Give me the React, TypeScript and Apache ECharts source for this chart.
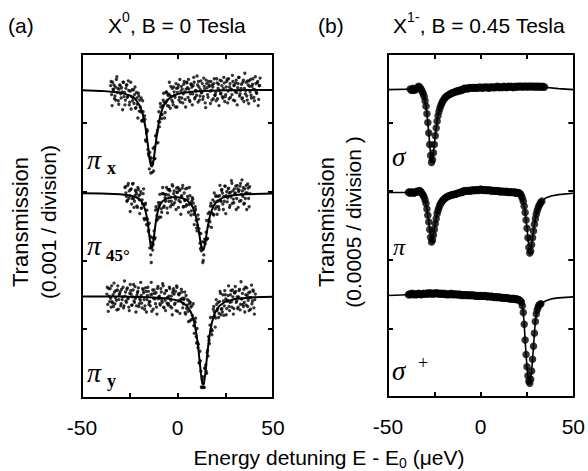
import React, { useEffect, useRef } from 'react';
import * as echarts from 'echarts';

// ---------- axes ----------
const X_MIN = -50;
const X_MAX = 50;
const X_TICK = 25;
const Y_MIN = 0;
const Y_MAX = 5;
const Y_TICK = 1;
// vertical offsets (in divisions) of the three stacked traces
const OFFSETS = [4.48, 2.98, 1.48];
const STEP = 0.5; // energy step of the measured points (ueV)

// ---------- panel (a): X0, B = 0 T  (transmission change, divisions); two interleaved scans ----------
const PIX_START = -35;
const PIX_Y = [
  0.06, -0.07, 0.11, 0.00, -0.13, 0.04, 0.15, -0.04, -0.16, 0.01, 0.06, -0.12, -0.03, 0.11, -0.10, -0.22, 0.02, 0.07, -0.09, -0.01, -0.18, 0.11, -0.10, -0.16, 0.00, -0.07,
  -0.27, -0.04, -0.21, -0.05, -0.31, -0.25, -0.12, -0.45, -0.32, -0.46, -0.43, -0.75, -0.58, -0.87, -0.96, -0.91, -1.21, -1.05, -1.07, -1.18, -0.83, -0.67, -0.77, -0.59, -0.46, -0.54, -0.20, -0.36, -0.36, -0.15, -0.18, -0.33, -0.04, -0.16, -0.08,
  -0.24, -0.08, 0.05, -0.15, -0.18, 0.04, -0.08, -0.25, 0.02, -0.04, 0.07, -0.11, -0.18, 0.05, 0.01, -0.06, 0.12, -0.14, 0.01,
  0.10, -0.11, 0.01, -0.17, 0.08, 0.04, -0.06, 0.18, -0.13, -0.01, -0.08, 0.07, 0.12, -0.15, 0.00, -0.04, 0.09, -0.10, 0.05, -0.19, 0.14, 0.03, -0.11, 0.07, -0.02, 0.12, -0.15, 0.04, 0.09, -0.08, -0.04, 0.16, -0.13, 0.08, -0.01, -0.06, 0.13, -0.10, 0.02, 0.10,
  -0.10, 0.04, 0.15, -0.02, -0.13, 0.09, 0.01, -0.07, 0.12, 0.06, -0.16, 0.10, -0.04, 0.03, 0.18, -0.09, -0.01, 0.08, -0.12, 0.14, 0.02, -0.06, 0.11, -0.15, 0.07, 0.13, -0.03, -0.08, 0.05, 0.16, -0.11, 0.00, 0.09, -0.05, 0.12, -0.14, 0.06,
];
const PIX2_START = -34.75;
const PIX2_Y = [
  0.12, -0.23, 0.01, 0.07, -0.09, -0.15, 0.19, 0.02, -0.21, 0.07, -0.06, 0.03, -0.29, 0.11, -0.04, -0.15, 0.07, -0.11, 0.13, -0.22, -0.02, -0.28, 0.00, -0.11, -0.20, 0.04,
  -0.26, -0.12, -0.41, -0.09, -0.15, -0.32, -0.45, -0.16, -0.42, -0.38, -0.73, -0.63, -0.60, -0.93, -1.15, -1.00, -0.99, -1.20, -0.85, -1.00, -1.00, -0.67, -0.63, -0.77, -0.32, -0.47, -0.25, -0.42, -0.23, -0.05, -0.41, -0.19, -0.03, -0.23, -0.06,
  0.11, -0.27, -0.10, 0.02, -0.22, -0.03, -0.11, 0.09, -0.25, 0.03, -0.15, 0.15, -0.02, -0.12, -0.19, 0.08, -0.03, -0.25, 0.11,
  0.03, 0.15, -0.15, -0.06, 0.08, -0.22, 0.06, 0.11, -0.11, -0.02, 0.20, -0.18, 0.04, -0.09, 0.13, -0.04, -0.14, 0.17, 0.01, -0.26, 0.09, -0.07, 0.12, 0.05, -0.20, -0.01, 0.07, -0.13, 0.16, -0.08, -0.16, 0.10, 0.02, -0.23, 0.14, -0.05, 0.06, -0.12, 0.18, -0.17,
  -0.07, 0.12, -0.19, 0.16, 0.04, -0.11, 0.00, 0.21, -0.15, 0.07, -0.03, 0.14, -0.22, 0.09, 0.18, -0.06, 0.02, -0.13, 0.11, -0.17, 0.24, -0.01, -0.09, 0.13, -0.20, 0.05, 0.15, -0.12, 0.08, 0.01, -0.16, 0.19, -0.04, 0.10, -0.23, 0.06, 0.17,
];
const P45_START = -27.5;
const P45_Y = [
  0.08, 0.00, -0.12, 0.11, -0.08, -0.04, 0.05, -0.16, 0.13, -0.08, -0.12, 0.04, -0.01, -0.21, 0.05, -0.10, -0.02, -0.22,
  -0.10, -0.01, -0.37, -0.17, -0.37, -0.25, -0.47, -0.54, -0.80, -0.90, -0.72, -0.83, -0.66, -0.67, -0.25, -0.40, -0.23, -0.14, -0.35, -0.14, -0.23,
  -0.01, -0.01, -0.19, -0.07, -0.02, -0.22, 0.05, -0.12, 0.03, -0.06, -0.17, 0.10, -0.01, -0.14, -0.09, 0.07, 0.01, -0.21, 0.05, -0.13, -0.05, 0.07, -0.20, 0.00, -0.10, -0.19, 0.07,
  -0.09, -0.17, -0.04, -0.32, -0.12, -0.09, -0.31, -0.27, -0.24, -0.51, -0.47, -0.38, -0.58, -0.81, -0.84, -0.71, -0.98, -0.71, -0.74, -0.57, -0.67, -0.30, -0.39, -0.42, -0.15, -0.29, -0.10, -0.32, -0.13, -0.05, -0.20, -0.12,
  -0.20, -0.04, -0.11, 0.04, 0.00, -0.24, -0.12, 0.10, -0.04, -0.13, 0.06, 0.00, -0.18, -0.06, 0.14, 0.03, -0.14, -0.01, 0.10, -0.08, 0.06, 0.02, -0.12, 0.14, -0.02, 0.03, 0.08, -0.15, -0.08, 0.11, 0.00, 0.07, -0.20, -0.01,
];
const P452_START = -27.25;
const P452_Y = [
  0.09, -0.05, -0.11, 0.14, 0.03, -0.27, 0.06, -0.08, 0.14, -0.21, -0.04, 0.02, -0.19, 0.08, -0.04, -0.30, 0.02,
  -0.22, -0.16, 0.06, -0.39, -0.15, -0.46, -0.38, -0.56, -0.44, -0.63, -1.01, -0.65, -0.75, -0.55, -0.65, -0.20, -0.33, -0.38, -0.18, -0.02, -0.35,
  -0.28, 0.08, -0.21, -0.02, -0.12, 0.08, -0.29, -0.03, 0.05, -0.20, -0.12, 0.12, -0.17, 0.03, -0.05, -0.24, 0.01, 0.08, -0.11, 0.04, -0.31, -0.04, 0.11, -0.20, -0.11, 0.06, -0.17,
  -0.05, -0.28, 0.08, -0.15, -0.26, -0.07, -0.15, -0.46, -0.20, -0.40, -0.55, -0.32, -0.52, -0.73, -0.59, -0.79, -1.01, -0.90, -0.67, -0.69, -0.40, -0.66, -0.48, -0.28, -0.19, -0.50, -0.19, -0.31, 0.00, -0.23, -0.04, -0.31,
  -0.05, -0.24, 0.11, -0.12, 0.05, -0.16, -0.05, 0.10, -0.30, 0.02, -0.07, 0.07, -0.21, 0.01, 0.18, -0.15, -0.09, 0.06, 0.00, -0.24, 0.11, -0.21, 0.04, 0.10, -0.11, 0.19, -0.05, -0.16, 0.06, 0.00, -0.24, 0.13, -0.08, 0.09,
];
const PIY_START = -37;
const PIY_Y = [
  0.03, -0.12, 0.11, -0.08, -0.03, 0.15, -0.10, -0.15, 0.06, -0.02, -0.06, 0.09, -0.19, 0.02, 0.07, -0.11, -0.05, 0.13, -0.14, 0.00, -0.07, 0.10, -0.04, -0.16, 0.04, 0.08, -0.13, -0.01, 0.17, -0.09, -0.03, -0.14, 0.05, 0.12, -0.11, -0.06, 0.01, -0.17, 0.09, -0.05,
  -0.14, 0.07, -0.05, 0.13, -0.12, -0.08, 0.02, -0.22, 0.09, -0.03, 0.04, -0.11, -0.16, 0.11, -0.04, 0.00, -0.13, 0.06, -0.09, 0.15, -0.17, -0.06, 0.08, -0.10,
  -0.13, 0.00, 0.11, -0.06, -0.17, 0.05, 0.11, -0.12, 0.07, 0.15, -0.22, 0.03, 0.04, -0.05, 0.10, -0.03, -0.11, -0.03, -0.24, 0.01, -0.13, -0.22, -0.07, -0.36, -0.16, -0.14, -0.33, -0.43, -0.36, -0.32, -0.68, -0.67, -0.70, -0.97, -0.94, -1.32, -1.21, -1.27, -1.33, -1.04, -1.09, -0.82, -0.87, -0.64, -0.42, -0.51, -0.56, -0.31, -0.15, -0.29, -0.32, -0.12, -0.18, -0.31, -0.08, 0.04, -0.19, -0.23, -0.07, -0.14, 0.02, -0.27, -0.06, 0.01, -0.15, -0.09, 0.08, -0.16, -0.01, -0.18, 0.05,
  0.07, -0.07, -0.18, -0.01, 0.10, -0.12, -0.04, 0.04, -0.15, -0.09, 0.13, -0.13, 0.01, -0.06, -0.21, 0.06, -0.02, -0.11, 0.09, -0.17, -0.05,
];
const PIY2_START = -36.75;
const PIY2_Y = [
  0.13, -0.22, 0.00, 0.11, -0.16, -0.08, 0.02, 0.19, -0.11, 0.08, -0.20, 0.15, -0.05, 0.04, -0.14, 0.10, -0.01, -0.17, 0.22, 0.06, -0.09, 0.12, -0.02, -0.21, 0.17, 0.03, -0.13, 0.09, -0.07, 0.14, -0.23, 0.01, 0.07, -0.15, -0.04, 0.20, -0.10, 0.11, 0.05, -0.19,
  0.12, -0.23, 0.01, 0.07, -0.08, -0.14, 0.20, 0.03, -0.19, 0.09, -0.04, 0.05, -0.26, 0.14, -0.01, -0.11, 0.11, -0.06, 0.18, -0.16, 0.04, -0.21, 0.08, -0.02,
  -0.11, 0.13, -0.15, 0.00, -0.27, 0.08, 0.03, -0.10, -0.21, 0.13, -0.07, 0.02, -0.25, -0.06, 0.06, -0.17, -0.05, 0.06, -0.26, -0.18, -0.05, -0.37, -0.11, -0.09, -0.34, -0.28, -0.11, -0.54, -0.38, -0.59, -0.47, -0.75, -0.97, -0.80, -1.09, -1.33, -1.17, -1.32, -1.05, -1.00, -1.12, -0.79, -0.59, -0.69, -0.31, -0.48, -0.50, -0.19, -0.23, -0.45, -0.05, -0.21, -0.09, -0.25, 0.07, -0.27, -0.18, 0.02, -0.28, 0.08, -0.04, -0.18, -0.07, 0.15, -0.21, 0.02, -0.08, 0.09, -0.26, 0.05, 0.14,
  -0.09, -0.01, -0.16, 0.08, -0.20, 0.21, -0.04, -0.12, 0.10, -0.23, 0.02, 0.12, -0.15, 0.05, -0.02, -0.19, 0.16, -0.07, 0.07, -0.26, 0.03,
];
// fitted curves, panel (a): [energy, transmission change]
const PIX_FIT = [
  [-50, -0.008], [-40, -0.016], [-30, -0.041], [-25, -0.081], [-22, -0.139], [-20, -0.218], [-19, -0.283], [-18, -0.376], [-17, -0.51], [-16.5, -0.596], [-16, -0.696], [-15.5, -0.806], [-15, -0.918], [-14.5, -1.02], [-14, -1.093], [-13.5, -1.12], [-13, -1.093], [-12.5, -1.02], [-12, -0.918], [-11.5, -0.806], [-11, -0.696], [-10.5, -0.596], [-10, -0.51], [-9, -0.376], [-8, -0.283], [-7, -0.218], [-5, -0.139], [-2, -0.081], [2, -0.046], [10, -0.02], [25, -0.008], [50, -0.003],
];
const P45_FIT = [
  [-50, -0.005], [-40, -0.008], [-30, -0.018], [-25, -0.035], [-22, -0.057], [-20, -0.09], [-19, -0.118], [-18, -0.163], [-17, -0.237], [-16.5, -0.29], [-16, -0.359], [-15.5, -0.448], [-15, -0.556], [-14.5, -0.673], [-14, -0.771], [-13.5, -0.81], [-13, -0.772], [-12.5, -0.674], [-12, -0.557], [-11.5, -0.449], [-11, -0.361], [-10.5, -0.292], [-10, -0.24], [-9, -0.167], [-8, -0.126], [-6, -0.083], [-3, -0.061], [0, -0.061], [3, -0.079], [5, -0.107], [7, -0.162], [8, -0.209], [9, -0.28], [10, -0.383], [10.5, -0.451], [11, -0.53], [11.5, -0.617], [12, -0.705], [12.5, -0.781], [13, -0.828], [13.5, -0.832], [14, -0.793], [14.5, -0.722], [15, -0.634], [15.5, -0.545], [16, -0.464], [16.5, -0.393], [17, -0.334], [18, -0.245], [19, -0.185], [21, -0.113], [24, -0.065], [28, -0.036], [35, -0.018], [50, -0.007],
];
const PIY_FIT = [
  [-50, -0.003], [-30, -0.006], [-15, -0.014], [-5, -0.033], [0, -0.061], [3, -0.099], [5, -0.146], [7, -0.232], [8, -0.304], [9, -0.409], [10, -0.565], [10.5, -0.667], [11, -0.787], [11.5, -0.921], [12, -1.059], [12.5, -1.183], [13, -1.267], [13.4, -1.29], [14, -1.24], [14.5, -1.137], [15, -1.005], [15.5, -0.866], [16, -0.737], [16.5, -0.624], [17, -0.529], [18, -0.385], [19, -0.288], [20, -0.221], [22, -0.14], [25, -0.081], [30, -0.041], [40, -0.016], [50, -0.009],
];

// ---------- panel (b): X1-, B = 0.45 T ----------
const SGM_START = -38;
const SGM_Y = [
  0.01, -0.01, 0.00, 0.02, -0.01, 0.01, 0.00, 0.02, 0.03, 0.05, 0.04, 0.02, 0.00, -0.03, -0.06, -0.10, -0.16, -0.24, -0.35, -0.48, -0.63, -0.80, -0.96, -1.06, -1.02, -0.92, -0.80, -0.67, -0.56, -0.46, -0.38, -0.32, -0.27, -0.23, -0.20, -0.17, -0.15, -0.13, -0.11, -0.10, -0.09, -0.08, -0.07, -0.065, -0.055, -0.05, -0.045, -0.04, -0.035,
  -0.03, -0.02, -0.025, -0.015, -0.01, -0.015, 0.00, -0.005, 0.00, 0.02, 0.01, 0.02, 0.02, 0.01, 0.02, 0.03, 0.02, 0.02, 0.03, 0.02, 0.03, 0.02, 0.03, 0.03, 0.02, 0.03, 0.04, 0.03, 0.03, 0.02, 0.03, 0.04, 0.03, 0.03, 0.04, 0.03, 0.02, 0.03, 0.04, 0.04, 0.03, 0.03, 0.04, 0.03, 0.04, 0.05, 0.04, 0.03, 0.04, 0.04, 0.03, 0.04, 0.05, 0.04, 0.04, 0.03, 0.04, 0.05, 0.04, 0.04, 0.05, 0.04, 0.03, 0.04, 0.05, 0.04, 0.04, 0.05, 0.04, 0.05, 0.05, 0.04, 0.05, 0.04, 0.05, 0.05, 0.04, 0.05, 0.04, 0.05, 0.05, 0.04, 0.05, 0.05, 0.04, 0.05, 0.04, 0.05, 0.04, 0.05, 0.04, 0.05, 0.04, 0.04, 0.05, 0.04, 0.04,
];
const PIB_START = -39;
const PIB_Y = [
  0.00, 0.01, -0.01, 0.00, 0.01, 0.00, -0.01, 0.00, 0.01, 0.02, 0.01, 0.02, 0.03, 0.02, 0.00,
  -0.02, -0.04, -0.07, -0.11, -0.16, -0.24, -0.33, -0.43, -0.54, -0.65, -0.72, -0.69, -0.62, -0.54, -0.455, -0.38, -0.31, -0.26, -0.22, -0.18, -0.156, -0.136, -0.115, -0.10, -0.09, -0.075, -0.068, -0.06, -0.054, -0.048, -0.044, -0.037, -0.034, -0.03, -0.027, -0.024,
  -0.02, -0.02, -0.01, -0.01, 0.00, 0.00, 0.01, 0.00, 0.01,
  0.03, 0.02, 0.02, 0.03, 0.02, 0.03, 0.03, 0.02, 0.03, 0.04, 0.03, 0.03, 0.04, 0.03, 0.04, 0.04, 0.03, 0.04, 0.05, 0.04, 0.04, 0.03, 0.04, 0.04, 0.03, 0.04, 0.03, 0.03, 0.04, 0.03, 0.02, 0.03, 0.03, 0.02, 0.03, 0.02, 0.02, 0.03, 0.02, 0.01, 0.02, 0.02, 0.01, 0.02, 0.01, 0.01, 0.02, 0.01, 0.00, 0.01, 0.01, 0.00, 0.01, 0.00, 0.00, 0.01, -0.01, 0.00, -0.01, 0.00, -0.01, -0.02,
  -0.05, -0.083, -0.13, -0.20, -0.29, -0.40, -0.52, -0.66, -0.80, -0.88, -0.85, -0.76, -0.66, -0.56, -0.46, -0.38, -0.315, -0.265, -0.225, -0.19, -0.166, -0.14, -0.125,
];
const SGP_START = -39;
const SGP_Y = [
  0.01, 0.02, 0.01, 0.02, 0.03, 0.02, 0.01, 0.02, 0.02, 0.01, 0.02, 0.03, 0.02, 0.02, 0.01, 0.02, 0.03, 0.02, 0.02, 0.03, 0.03, 0.02, 0.03, 0.04, 0.03, 0.02, 0.03, 0.03, 0.02, 0.03, 0.04, 0.03, 0.03, 0.02, 0.03, 0.02, 0.03, 0.02, 0.02, 0.03, 0.02, 0.01, 0.02, 0.02, 0.01, 0.02, 0.03, 0.02, 0.01, 0.02, 0.02, 0.01, 0.02, 0.01, 0.01, 0.02, 0.01, 0.00, 0.01, 0.01, 0.00, 0.01, 0.01, 0.00, 0.01, 0.00, 0.00, 0.01, 0.00, 0.00, 0.01, 0.00, -0.01, 0.00, 0.00, -0.01, 0.00, -0.01, 0.00,
  -0.01, 0.00, -0.01, -0.01, 0.00, -0.01, -0.02, -0.01, -0.01, -0.02, -0.02, -0.01, -0.02, -0.02, -0.03, -0.02, -0.02, -0.03, -0.03, -0.02, -0.03, -0.03, -0.04, -0.03, -0.03, -0.04, -0.04, -0.03, -0.04, -0.04, -0.05, -0.04, -0.05, -0.05, -0.04, -0.05, -0.05, -0.06, -0.05, -0.06,
  -0.06, -0.07, -0.08, -0.10, -0.15, -0.25, -0.42, -0.65, -0.86, -1.04, -1.17, -1.25, -1.28, -1.22, -1.10, -0.93, -0.74, -0.55, -0.38, -0.27, -0.21, -0.17, -0.14, -0.13, -0.12,
];
const SGM_FIT = [
  [-50, 0], [-33, 0.01], [-32, 0], [-31.5, -0.03], [-31, -0.06], [-30.5, -0.10], [-30, -0.16], [-29.5, -0.24], [-29, -0.35], [-28.5, -0.48], [-28, -0.63], [-27.5, -0.80], [-27, -0.96], [-26.5, -1.06], [-26, -1.02], [-25.5, -0.92], [-25, -0.80], [-24.5, -0.67], [-24, -0.56], [-23.5, -0.46], [-23, -0.38], [-22.5, -0.32], [-22, -0.27], [-21, -0.20], [-20, -0.15], [-19, -0.11], [-18, -0.09], [-17, -0.07], [-15, -0.045], [-13, -0.02], [-10, 0.0], [0, 0.025], [20, 0.035], [34.5, 0.035], [42, 0.015], [50, 0],
];
const PIB_FIT = [
  [-50, 0], [-32, 0], [-31.5, -0.02], [-31, -0.04], [-30.5, -0.07], [-30, -0.11], [-29.5, -0.16], [-29, -0.24], [-28.5, -0.33], [-28, -0.43], [-27.5, -0.54], [-27, -0.65], [-26.5, -0.72], [-26, -0.69], [-25.5, -0.62], [-25, -0.54], [-24.5, -0.455], [-24, -0.38], [-23.5, -0.31], [-23, -0.26], [-22.5, -0.22], [-22, -0.18], [-21, -0.136], [-20, -0.10], [-19, -0.075], [-18, -0.06], [-16, -0.044], [-14, -0.024], [-12, -0.01], [-10, 0.005], [0, 0.03], [10, 0.015], [18, 0.0], [21, -0.01], [21.5, -0.02], [22, -0.05], [22.5, -0.083], [23, -0.13], [23.5, -0.20], [24, -0.29], [24.5, -0.40], [25, -0.52], [25.5, -0.66], [26, -0.80], [26.5, -0.88], [27, -0.85], [27.5, -0.76], [28, -0.66], [28.5, -0.56], [29, -0.46], [29.5, -0.38], [30, -0.315], [30.5, -0.265], [31, -0.225], [31.5, -0.19], [32, -0.166], [33, -0.125], [35, -0.08], [38, -0.05], [42, -0.03], [50, -0.01],
];
const SGP_FIT = [
  [-50, 0.0], [-39, 0.01], [-20, 0.02], [-5, 0.01], [0, 0.0], [10, -0.025], [20, -0.055], [21, -0.07], [22, -0.10], [22.5, -0.15], [23, -0.25], [23.5, -0.42], [24, -0.65], [24.5, -0.86], [25, -1.04], [25.5, -1.17], [26, -1.25], [26.5, -1.28], [27, -1.22], [27.5, -1.10], [28, -0.93], [28.5, -0.74], [29, -0.55], [29.5, -0.38], [30, -0.27], [30.5, -0.21], [31, -0.17], [32, -0.13], [33, -0.11], [35, -0.08], [38, -0.05], [42, -0.035], [50, -0.02],
];

// ---------- texts ----------
const X_TICK_LABELS = ['-50', '0', '50'];
const SANS = "'Liberation Sans', Arial, Helvetica, sans-serif";
const SERIF = "'Liberation Serif', 'Times New Roman', Times, serif";

const points = (ys: number[], start: number, off: number) => ys.map((v, i) => [start + i * STEP, v + off]);
const curve = (pts: number[][], off: number) => pts.map((p) => [p[0], p[1] + off]);

function xAxis(grid: number, position: 'top' | 'bottom', showLabel: boolean) {
  return {
    type: 'value', gridIndex: grid, position, min: X_MIN, max: X_MAX, interval: X_TICK,
    axisLine: { show: true, onZero: false, lineStyle: { color: '#000', width: 2 } },
    axisTick: { show: true, inside: true, length: 5, lineStyle: { color: '#000', width: 2 } },
    axisLabel: {
      show: showLabel, margin: 19, fontSize: 21, fontFamily: SANS, color: '#000',
      showMinLabel: true, showMaxLabel: true,
      formatter: (v: number) => (X_TICK_LABELS.includes(String(v)) ? String(v) : ''),
    },
    splitLine: { show: false },
  };
}
function yAxis(grid: number, position: 'left' | 'right') {
  return {
    type: 'value', gridIndex: grid, position, min: Y_MIN, max: Y_MAX, interval: Y_TICK,
    axisLine: { show: true, onZero: false, lineStyle: { color: '#000', width: 2 } },
    axisTick: { show: true, inside: true, length: 5, lineStyle: { color: '#000', width: 2 } },
    axisLabel: { show: false },
    splitLine: { show: false },
  };
}
function scatter(data: number[][], axis: number, size: number) {
  return {
    type: 'scatter', xAxisIndex: axis, yAxisIndex: axis, data, symbol: 'circle', symbolSize: size,
    itemStyle: { color: '#000' }, silent: true, z: 3,
  };
}
function fitLine(data: number[][], axis: number, width: number) {
  return {
    type: 'line', xAxisIndex: axis, yAxisIndex: axis, data, showSymbol: false, symbol: 'none',
    lineStyle: { color: '#000', width }, silent: true, z: 4,
  };
}
function txt(x: number, y: number, text: string, extra: any = {}) {
  return {
    type: 'text', x, y,
    style: { text, fill: '#000', font: `21px ${SANS}`, align: 'left', verticalAlign: 'middle', textAlign: 'left', textVerticalAlign: 'middle', ...extra },
  };
}

export default function App() {
  const ref = useRef<HTMLDivElement>(null);
  useEffect(() => {
    if (!ref.current) return;
    const chart = echarts.init(ref.current, undefined, { renderer: 'svg' });
    const grids = [
      { left: 82, top: 54, width: 191, height: 344 },
      { left: 388, top: 54, width: 188, height: 343 },
    ];
    const A_SIZE = 3.3;
    const B_SIZE = 7.5;
    const series = [
      scatter(points(PIX_Y, PIX_START, OFFSETS[0]), 0, A_SIZE),
      scatter(points(PIX2_Y, PIX2_START, OFFSETS[0]), 0, A_SIZE),
      scatter(points(P45_Y, P45_START, OFFSETS[1]), 0, A_SIZE),
      scatter(points(P452_Y, P452_START, OFFSETS[1]), 0, A_SIZE),
      scatter(points(PIY_Y, PIY_START, OFFSETS[2]), 0, A_SIZE),
      scatter(points(PIY2_Y, PIY2_START, OFFSETS[2]), 0, A_SIZE),
      fitLine(curve(PIX_FIT, OFFSETS[0]), 0, 2),
      fitLine(curve(P45_FIT, OFFSETS[1]), 0, 2),
      fitLine(curve(PIY_FIT, OFFSETS[2]), 0, 2),
      scatter(points(SGM_Y, SGM_START, OFFSETS[0]), 2, B_SIZE),
      scatter(points(PIB_Y, PIB_START, OFFSETS[1]), 2, B_SIZE),
      scatter(points(SGP_Y, SGP_START, OFFSETS[2]), 2, B_SIZE),
      fitLine(curve(SGM_FIT, OFFSETS[0]), 2, 1.6),
      fitLine(curve(PIB_FIT, OFFSETS[1]), 2, 1.6),
      fitLine(curve(SGP_FIT, OFFSETS[2]), 2, 1.6),
    ];
    const sansRich = (size: number) => ({ fontSize: size, fontFamily: SANS, fill: '#000' });
    const graphic = [
      txt(8, 25, '(a)'),
      txt(318, 25, '(b)'),
      {
        type: 'text', x: 177, y: 25,
        style: {
          text: '{m|X}{s|0}{m|, B = 0 Tesla}', align: 'center', verticalAlign: 'middle', textAlign: 'center', textVerticalAlign: 'middle', fill: '#000',
          rich: { m: { ...sansRich(21), lineHeight: 30 }, s: { ...sansRich(14), verticalAlign: 'top', lineHeight: 14 } },
        },
      },
      {
        type: 'text', x: 479, y: 25,
        style: {
          text: '{m|X}{s|1-}{m|, B = 0.45 Tesla}', align: 'center', verticalAlign: 'middle', textAlign: 'center', textVerticalAlign: 'middle', fill: '#000',
          rich: { m: { ...sansRich(21), lineHeight: 30 }, s: { ...sansRich(14), verticalAlign: 'top', lineHeight: 14 } },
        },
      },
      {
        type: 'text', x: 329, y: 457,
        style: {
          text: '{m|Energy detuning E - E}{b|0}{m| (\u03bceV)}', align: 'center', verticalAlign: 'middle', textAlign: 'center', textVerticalAlign: 'middle', fill: '#000',
          rich: { m: { ...sansRich(21), lineHeight: 26 }, b: { ...sansRich(14), verticalAlign: 'bottom', lineHeight: 14 } },
        },
      },
      { ...txt(20, 222, 'Transmission', { align: 'center', textAlign: 'center', font: `22px ${SANS}` }), rotation: Math.PI / 2 },
      { ...txt(48, 222, '(0.001 / division)', { align: 'center', textAlign: 'center' }), rotation: Math.PI / 2 },
      { ...txt(326, 222, 'Transmission', { align: 'center', textAlign: 'center', font: `22px ${SANS}` }), rotation: Math.PI / 2 },
      { ...txt(353, 222, '(0.0005 / division )', { align: 'center', textAlign: 'center' }), rotation: Math.PI / 2 },
      // polarization labels, panel (a)
      txt(87, 159, '\u03c0', { font: `italic 28px ${SERIF}` }),
      txt(107, 168, 'x', { font: `bold 18px ${SERIF}` }),
      txt(87, 245, '\u03c0', { font: `italic 28px ${SERIF}` }),
      txt(106, 255, '45\u00b0', { font: `bold 17px ${SERIF}` }),
      txt(87, 372, '\u03c0', { font: `italic 28px ${SERIF}` }),
      txt(107, 381, 'y', { font: `bold 18px ${SERIF}` }),
      // panel (b)
      txt(392, 157, '\u03c3', { font: `italic 27px ${SERIF}` }),
      txt(393, 247, '\u03c0', { font: `italic 24px ${SERIF}` }),
      txt(392, 371, '\u03c3', { font: `italic 27px ${SERIF}` }),
      txt(418, 363, '+', { font: `18px ${SERIF}` }),
    ];
    chart.setOption({
      animation: false,
      backgroundColor: '#fff',
      grid: grids,
      xAxis: [xAxis(0, 'bottom', true), xAxis(0, 'top', false), xAxis(1, 'bottom', true), xAxis(1, 'top', false)],
      yAxis: [yAxis(0, 'left'), yAxis(0, 'right'), yAxis(1, 'left'), yAxis(1, 'right')],
      series,
      graphic,
    });
    return () => chart.dispose();
  }, []);
  return <div ref={ref} style={{ position: 'fixed', left: 0, top: 0, width: 588, height: 471 }} />;
}
